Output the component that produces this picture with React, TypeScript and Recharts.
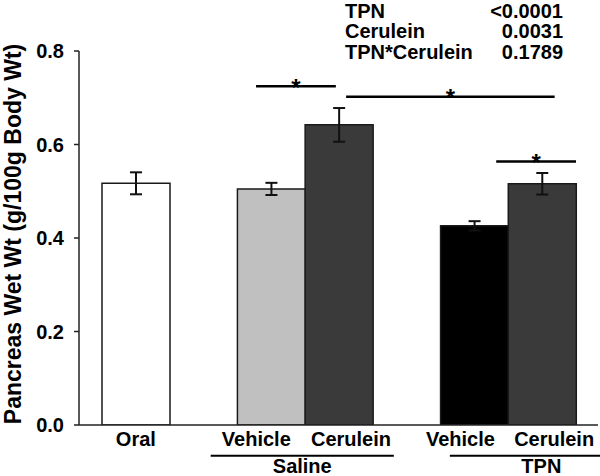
import React from 'react';
import { BarChart, Bar, XAxis, YAxis, ErrorBar, Cell, ReferenceLine } from 'recharts';

// ---- data ----
const categoryIds = ['oral', 'gap1', 'salVeh', 'salCer', 'gap2', 'tpnVeh', 'tpnCer'];
const categoryLabels = ['Oral', '', 'Vehicle', 'Cerulein', '', 'Vehicle', 'Cerulein'];
const meanValues: (number | null)[] = [0.517, null, 0.505, 0.642, null, 0.426, 0.516];
const semValues: (number | null)[] = [0.0235, null, 0.013, 0.036, null, 0.01, 0.023];
const yTicks = [0, 0.2, 0.4, 0.6, 0.8];

// significance brackets in category-index units
const sigFrom = [1.95, 3.09, 4.99];
const sigTo = [2.96, 5.73, 6.0];
const sigY = [0.7245, 0.7022, 0.5636];

// group brackets under the axis
const groupLabels = ['Saline', 'TPN'];
const groupFrom = [1.376, 4.403];
const groupTo = [3.694, 6.72];
const groupY = -0.0658;

// stats table
const statLabels = ['TPN', 'Cerulein', 'TPN*Cerulein'];
const statValues = ['<0.0001', '0.0031', '0.1789'];

// ---- styles ----
const barColors = ['#ffffff', '#ffffff', '#c0c0c0', '#3a3a3a', '#ffffff', '#000000', '#3a3a3a'];
const labelShift = [0, 0, -15, 12, 0, -14, 12];
const FONT = '"Liberation Sans", Arial, Helvetica, sans-serif';

const data = categoryIds.map((id, i) => ({
  id,
  value: meanValues[i],
  err: semValues[i],
}));

const XTick = (props: any) => {
  const { x, y, payload } = props;
  const i = payload.index;
  return (
    <text
      x={x + labelShift[i]}
      y={y}
      dy="0.71em"
      textAnchor="middle"
      fontFamily={FONT}
      fontWeight="bold"
      fontSize={20}
      fill="#000"
    >
      {categoryLabels[i]}
    </text>
  );
};

export default function App() {
  return (
    <div style={{ position: 'absolute', left: 0, top: 0, width: 600, height: 476, background: '#fff', fontFamily: FONT }}>
      <BarChart
        width={600}
        height={476}
        data={data}
        margin={{ top: 51, right: 2, left: 0, bottom: 0 }}
        barCategoryGap={0}
        barGap={0}
      >
        <XAxis
          dataKey="id"
          height={51}
          interval={0}
          padding={{ left: 23, right: 22 }}
          tickLine={false}
          tickSize={0}
          tickMargin={7}
          axisLine={{ stroke: '#222', strokeWidth: 1.5 }}
          tick={<XTick />}
        />
        <XAxis
          xAxisId="num"
          type="number"
          domain={[-0.5, 6.5]}
          allowDataOverflow
          padding={{ left: 23, right: 22 }}
          hide
        />
        <YAxis
          width={79}
          domain={[0, 0.8]}
          ticks={yTicks}
          allowDataOverflow
          tickFormatter={(v: number) => v.toFixed(1)}
          tickSize={5}
          tickMargin={10}
          axisLine={{ stroke: '#222', strokeWidth: 1.5 }}
          tickLine={{ stroke: '#222', strokeWidth: 1.5 }}
          tick={{ fontFamily: FONT, fontWeight: 'bold', fontSize: 20, fill: '#000' }}
          label={{
            value: 'Pancreas Wet Wt (g/100g Body Wt)',
            angle: -90,
            position: 'center',
            dx: -26.7,
            dy: -4,
            fontFamily: FONT,
            fontWeight: 'bold',
            fontSize: 23,
            fill: '#000',
          }}
        />
        <Bar dataKey="value" stroke="#1a1a1a" strokeWidth={1.5} isAnimationActive={false}>
          {data.map((d, i) => (
            <Cell key={d.id} fill={barColors[i]} />
          ))}
          <ErrorBar dataKey="err" width={6} stroke="#111" strokeWidth={2} direction="y" />
        </Bar>
        {sigFrom.map((f, i) => (
          <ReferenceLine
            key={'sig' + i}
            xAxisId="num"
            ifOverflow="visible"
            segment={[
              { x: f, y: sigY[i] },
              { x: sigTo[i], y: sigY[i] },
            ]}
            stroke="#000"
            strokeWidth={2.5}
            label={{ value: '*', position: 'center', dy: 1, fontFamily: FONT, fontWeight: 'bold', fontSize: 24, fill: '#000' }}
          />
        ))}
        {groupLabels.map((g, i) => (
          <ReferenceLine
            key={'grp' + i}
            xAxisId="num"
            ifOverflow="visible"
            segment={[
              { x: groupFrom[i], y: groupY },
              { x: groupTo[i], y: groupY },
            ]}
            stroke="#000"
            strokeWidth={2}
            label={{ value: g, position: 'bottom', offset: 3.5, fontFamily: FONT, fontWeight: 'bold', fontSize: 20, fill: '#000' }}
          />
        ))}
      </BarChart>
      <svg width={600} height={476} style={{ position: 'absolute', left: 0, top: 0, pointerEvents: 'none' }}>
        {statLabels.map((s, i) => (
          <g key={s}>
            <text x={345} y={18.2 + i * 20.2} fontFamily={FONT} fontWeight="bold" fontSize={20} fill="#000">
              {s}
            </text>
            <text x={563} y={18.2 + i * 20.2} textAnchor="end" fontFamily={FONT} fontWeight="bold" fontSize={20} fill="#000">
              {statValues[i]}
            </text>
          </g>
        ))}
      </svg>
    </div>
  );
}
